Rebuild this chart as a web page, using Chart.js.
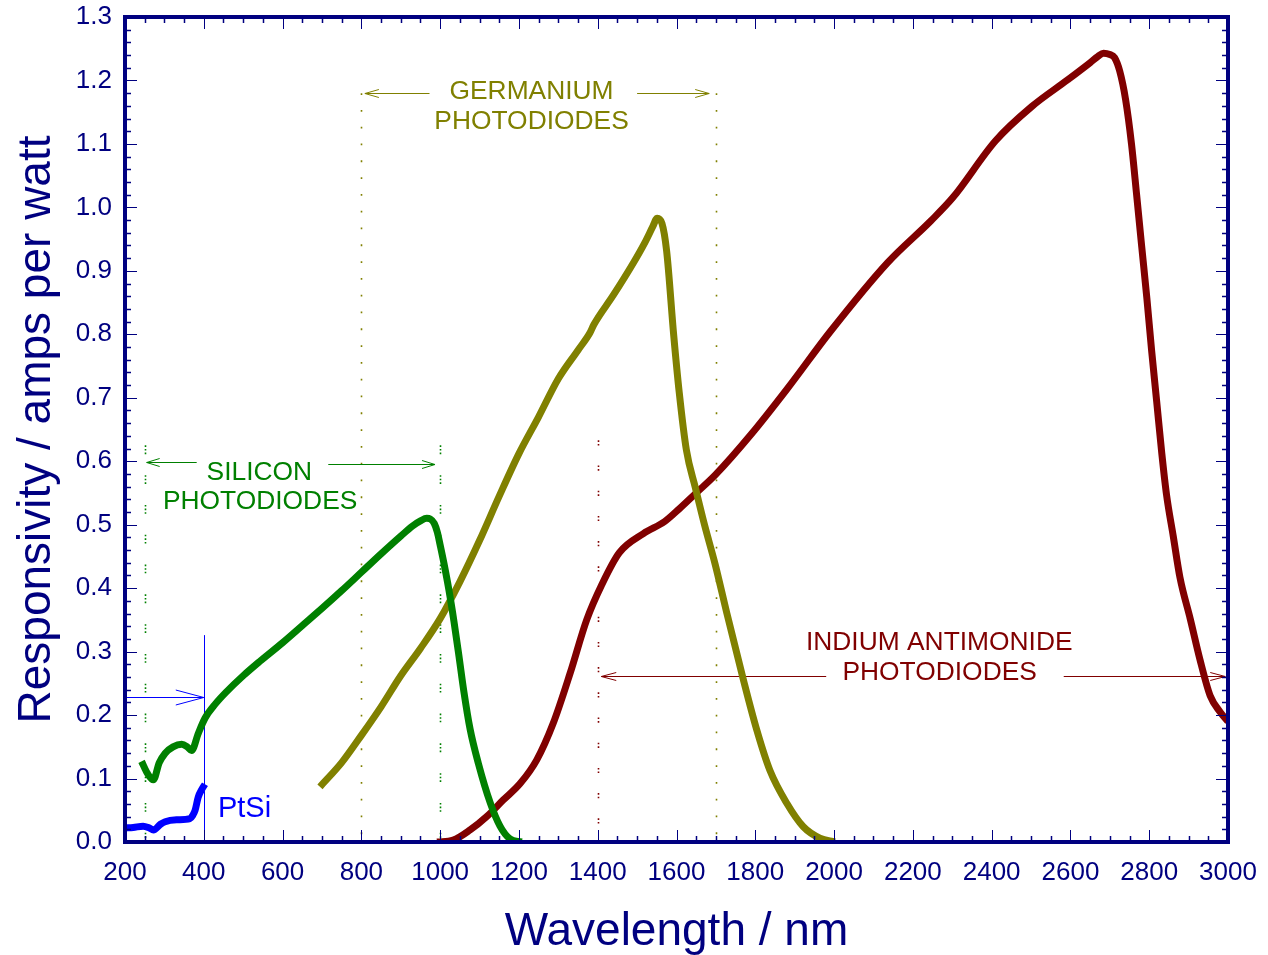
<!DOCTYPE html>
<html>
<head>
<meta charset="utf-8">
<script src="https://cdn.jsdelivr.net/npm/chart.js@4.4.1/dist/chart.umd.min.js"></script>
<style>
html,body{margin:0;padding:0;background:#ffffff;}
#wrap{width:1268px;height:955px;}
</style>
</head>
<body>
<div id="wrap"><canvas id="c" width="1268" height="955"></canvas></div>
<script>
// ---------- DATA ----------
const siliconNm   = [242, 257, 272, 287, 302, 322, 344, 358, 369, 386, 403, 430, 458, 500, 543, 600, 650, 700, 750, 800, 850, 900, 930, 950, 966, 975, 985, 993, 1000, 1010, 1022, 1035, 1048, 1060, 1076, 1097, 1127, 1152, 1177, 1207];
const siliconResp = [0.127, 0.108, 0.098, 0.125, 0.140, 0.150, 0.154, 0.150, 0.144, 0.171, 0.195, 0.218, 0.237, 0.262, 0.285, 0.314, 0.341, 0.368, 0.396, 0.425, 0.454, 0.482, 0.498, 0.506, 0.510, 0.509, 0.502, 0.488, 0.468, 0.438, 0.398, 0.348, 0.292, 0.238, 0.178, 0.124, 0.062, 0.025, 0.005, 0.000];

const germaniumNm   = [695, 750, 800, 850, 900, 950, 1000, 1050, 1100, 1150, 1200, 1250, 1300, 1350, 1380, 1390, 1440, 1490, 1520, 1540, 1551, 1563, 1575, 1593, 1607, 1625, 1648, 1671, 1698, 1728, 1770, 1804, 1837, 1880, 1922, 1964, 2002];
const germaniumResp = [0.087, 0.125, 0.168, 0.213, 0.262, 0.305, 0.352, 0.410, 0.475, 0.545, 0.612, 0.670, 0.730, 0.775, 0.802, 0.815, 0.862, 0.912, 0.945, 0.970, 0.983, 0.975, 0.931, 0.798, 0.708, 0.618, 0.558, 0.500, 0.438, 0.360, 0.255, 0.176, 0.113, 0.061, 0.024, 0.006, 0.000];

const indiumNm   = [992, 1033, 1076, 1118, 1160, 1203, 1245, 1287, 1330, 1372, 1410, 1455, 1516, 1570, 1607, 1650, 1698, 1789, 1881, 1990, 2136, 2246, 2301, 2410, 2502, 2593, 2650, 2670, 2684, 2700, 2712, 2725, 2740, 2755, 2768, 2781, 2794, 2806, 2819, 2832, 2844, 2861, 2878, 2904, 2929, 2955, 2980, 3000];
const indiumResp = [0.000, 0.003, 0.019, 0.040, 0.066, 0.092, 0.129, 0.187, 0.266, 0.350, 0.405, 0.456, 0.486, 0.505, 0.525, 0.550, 0.578, 0.642, 0.714, 0.804, 0.913, 0.979, 1.015, 1.105, 1.159, 1.201, 1.228, 1.238, 1.243, 1.241, 1.236, 1.215, 1.170, 1.100, 1.020, 0.938, 0.857, 0.775, 0.694, 0.612, 0.547, 0.482, 0.417, 0.352, 0.287, 0.230, 0.205, 0.190];

const ptsiNm   = [200, 221, 246, 262, 272, 290, 302, 331, 365, 372, 378, 386, 395, 403];
const ptsiResp = [0.022, 0.023, 0.025, 0.022, 0.019, 0.028, 0.032, 0.035, 0.037, 0.042, 0.050, 0.071, 0.083, 0.091];

const xTickValues = [200, 400, 600, 800, 1000, 1200, 1400, 1600, 1800, 2000, 2200, 2400, 2600, 2800, 3000];
const yTickLabels = ['0.0','0.1','0.2','0.3','0.4','0.5','0.6','0.7','0.8','0.9','1.0','1.1','1.2','1.3'];

// ---------- STYLE ----------
const NAVY = '#000080';
const FONT = "'Liberation Sans', Arial, Helvetica, sans-serif";
const C_SI = '#008000', C_GE = '#808000', C_IN = '#800000', C_PT = '#0000ff';

function pairs(xs, ys){ return xs.map((x,i)=>({x:x, y:ys[i]})); }
function curve(label, xs, ys, color){
  return {label, data: pairs(xs, ys), showLine:true, borderColor:color, backgroundColor:color,
    borderWidth:7, pointRadius:0, pointHoverRadius:0, fill:false,
    cubicInterpolationMode:'monotone', borderJoinStyle:'round', borderCapStyle:'butt'};
}

// Annotation layout (data coordinates: wavelength nm / responsivity)
const guideLines = [
  {nm:250,  from:0, to:0.625, color:C_SI, dash:[1.6,2,1.6,2,1.6,21]},
  {nm:1000, from:0, to:0.625, color:C_SI, dash:[1.6,2,1.6,2,1.6,21]},
  {nm:800,  from:0, to:1.18,  color:C_GE, dash:[1.8,15]},
  {nm:1700, from:0, to:1.18,  color:C_GE, dash:[1.8,15]},
  {nm:1400, from:0, to:0.633, color:C_IN, dash:[1.6,2,1.6,20]}
];
const arrows = [
  {tail:[382,0.599], tip:[255,0.599], color:C_SI, len:13, half:4},
  {tail:[716,0.595], tip:[987,0.595], color:C_SI, len:13, half:4},
  {tail:[973,1.180], tip:[809,1.180], color:C_GE, len:14, half:4},
  {tail:[1500,1.180], tip:[1683,1.180], color:C_GE, len:14, half:4},
  {tail:[1980,0.261], tip:[1409,0.261], color:C_IN, len:15, half:4},
  {tail:[2583,0.261], tip:[2993,0.261], color:C_IN, len:15, half:4},
  {tail:[200,0.229], tip:[400,0.229], color:C_PT, len:28, half:7.5}
];
const segments = [
  {from:[400,0], to:[400,0.326], color:C_PT}
];
const labels = [
  {text:'SILICON', at:[541,0.582], color:C_SI, size:25, sx:1.055, align:'center'},
  {text:'PHOTODIODES', at:[543,0.535], color:C_SI, size:25, sx:1.055, align:'center'},
  {text:'GERMANIUM', at:[1232,1.182], color:C_GE, size:25, sx:1.055, align:'center'},
  {text:'PHOTODIODES', at:[1232,1.135], color:C_GE, size:25, sx:1.055, align:'center'},
  {text:'INDIUM ANTIMONIDE', at:[2267,0.314], color:C_IN, size:25, sx:1.055, align:'center'},
  {text:'PHOTODIODES', at:[2268,0.266], color:C_IN, size:25, sx:1.055, align:'center'},
  {text:'PtSi', at:[436,0.052], color:C_PT, size:29, sx:1.0, align:'left'}
];

const annotPlugin = {
  id:'annot',
  beforeDatasetsDraw(chart){
    const ctx = chart.ctx, xs = chart.scales.x, ys = chart.scales.y;
    ctx.save();
    guideLines.forEach(g=>{
      const px = Math.round(xs.getPixelForValue(g.nm)) + 0.5;
      ctx.beginPath();
      ctx.setLineDash(g.dash);
      ctx.strokeStyle = g.color; ctx.lineWidth = 1.6;
      ctx.moveTo(px, ys.getPixelForValue(g.to));
      ctx.lineTo(px, ys.getPixelForValue(g.from));
      ctx.stroke();
    });
    ctx.setLineDash([]);
    segments.forEach(s=>{
      ctx.beginPath(); ctx.strokeStyle = s.color; ctx.lineWidth = 1;
      const x1 = Math.round(xs.getPixelForValue(s.from[0]))+0.5;
      ctx.moveTo(x1, ys.getPixelForValue(s.from[1]));
      ctx.lineTo(x1, ys.getPixelForValue(s.to[1]));
      ctx.stroke();
    });
    arrows.forEach(a=>{
      const x1 = xs.getPixelForValue(a.tail[0]), x2 = xs.getPixelForValue(a.tip[0]);
      const y = Math.round(ys.getPixelForValue(a.tip[1])) + 0.5;
      const dir = Math.sign(x2 - x1);
      ctx.beginPath(); ctx.strokeStyle = a.color; ctx.lineWidth = 1;
      ctx.moveTo(x1, y); ctx.lineTo(x2, y);
      ctx.moveTo(x2 - dir*a.len, y - a.half); ctx.lineTo(x2, y); ctx.lineTo(x2 - dir*a.len, y + a.half);
      ctx.stroke();
    });
    labels.forEach(l=>{
      ctx.save();
      ctx.translate(xs.getPixelForValue(l.at[0]), ys.getPixelForValue(l.at[1]));
      ctx.scale(l.sx, 1);
      ctx.fillStyle = l.color;
      ctx.font = l.size + 'px ' + FONT;
      ctx.textAlign = l.align; ctx.textBaseline = 'middle';
      ctx.fillText(l.text, 0, 0);
      ctx.restore();
    });
    ctx.restore();
  },
  afterDatasetsDraw(chart){
    const ctx = chart.ctx, xs = chart.scales.x, ys = chart.scales.y, a = chart.chartArea;
    ctx.save();
    ctx.strokeStyle = NAVY;
    // minor/major tick marks on all four sides, pointing inward
    for (let v = 250; v < 3000; v += 50){
      const major = v % 200 === 0;
      const L = major ? 12 : 6;
      const px = Math.round(xs.getPixelForValue(v)) + 0.5;
      ctx.lineWidth = major ? 1 : 1.5;
      ctx.beginPath();
      ctx.moveTo(px, a.bottom); ctx.lineTo(px, a.bottom - L);
      ctx.moveTo(px, a.top); ctx.lineTo(px, a.top + L);
      ctx.stroke();
    }
    for (let i = 1; i < 65; i++){
      const v = i * 0.02;
      const major = i % 5 === 0;
      const L = major ? 12 : 6;
      const py = Math.round(ys.getPixelForValue(v)) + 0.5;
      ctx.lineWidth = major ? 1 : 1.5;
      ctx.beginPath();
      ctx.moveTo(a.left, py); ctx.lineTo(a.left + L, py);
      ctx.moveTo(a.right, py); ctx.lineTo(a.right - L, py);
      ctx.stroke();
    }
    ctx.lineWidth = 4;
    ctx.strokeRect(a.left, a.top, a.right - a.left, a.bottom - a.top);
    ctx.restore();
  }
};

new Chart(document.getElementById('c').getContext('2d'), {
  type:'scatter',
  data:{ datasets:[
    curve('Silicon photodiodes', siliconNm, siliconResp, C_SI),
    curve('Germanium photodiodes', germaniumNm, germaniumResp, C_GE),
    curve('Indium antimonide photodiodes', indiumNm, indiumResp, C_IN),
    curve('PtSi', ptsiNm, ptsiResp, C_PT)
  ]},
  options:{
    responsive:false, animation:false, devicePixelRatio:1,
    layout:{padding:{top:17, right:40, left:0, bottom:0}},
    plugins:{legend:{display:false}, tooltip:{enabled:false}},
    scales:{
      x:{type:'linear', min:200, max:3000,
        afterBuildTicks: s => { s.ticks = xTickValues.map(v=>({value:v})); },
        grid:{display:false, drawTicks:false}, border:{display:false},
        ticks:{color:NAVY, font:{family:FONT, size:26}, padding:15, maxRotation:0, autoSkip:false,
          callback: v => String(v)},
        title:{display:true, text:'Wavelength / nm', color:NAVY, font:{family:FONT, size:46, lineHeight:1.0}, padding:{top:0, bottom:0}},
        afterFit: s => { s.height = 113; s.paddingLeft = 0; s.paddingRight = 0; }
      },
      y:{type:'linear', min:0, max:1.3,
        afterBuildTicks: s => { s.ticks = yTickLabels.map(t=>({value:parseFloat(t)})); },
        grid:{display:false, drawTicks:false}, border:{display:false},
        ticks:{color:NAVY, font:{family:FONT, size:26}, padding:13, autoSkip:false,
          callback: (v, i) => yTickLabels[i]},
        title:{display:true, text:'Responsivity / amps per watt', color:NAVY, font:{family:FONT, size:46, lineHeight:1.0}, padding:{top:14, bottom:0}},
        afterFit: s => { s.width = 125; s.paddingTop = 0; s.paddingBottom = 0; }
      }
    }
  },
  plugins:[annotPlugin]
});
</script>
</body>
</html>
